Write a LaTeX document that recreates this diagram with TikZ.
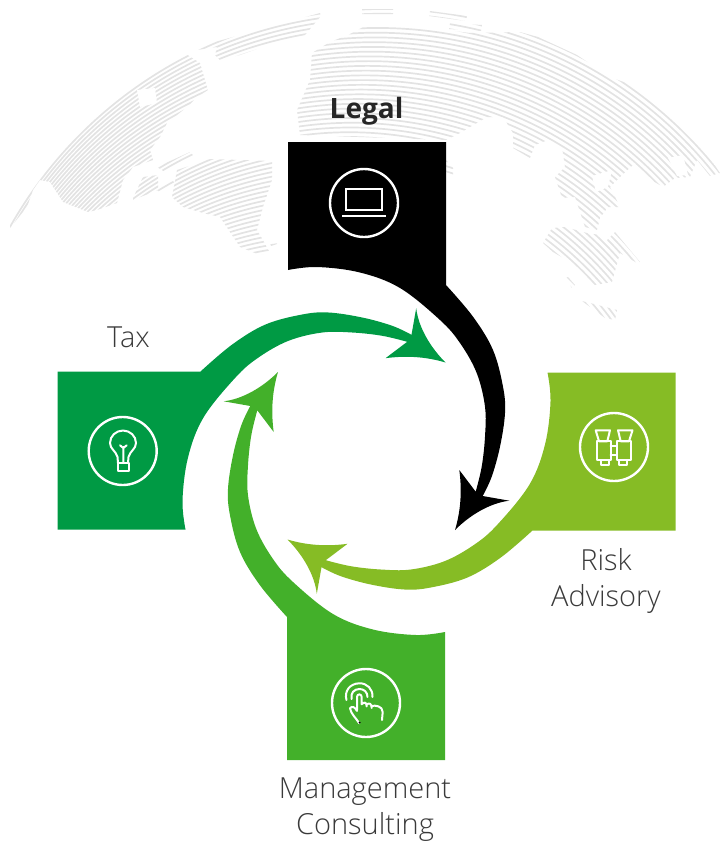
\documentclass[tikz,border=0pt]{standalone}
\usepackage{fontspec}
\setmainfont{Open Sans Light}
\newfontfamily\boldlab{Open Sans}[BoldFont={Open Sans Bold}]
\definecolor{taxgreen}{HTML}{009A44}
\definecolor{mgmtgreen}{HTML}{43B02A}
\definecolor{riskgreen}{HTML}{86BC25}
\definecolor{globegray}{HTML}{E3E3E3}
\definecolor{labelgray}{HTML}{3A3A3A}
\tikzset{
  globeline/.style={draw=globegray,line width=1.7pt},
  gapfill/.style={fill=white,draw=none},
  iconring/.style={draw=white,line width=2.4pt},
  iconline/.style={draw=white,line width=2pt,line cap=round,line join=round},
  lab/.style={text=labelgray,font=\fontsize{29}{36}\selectfont,align=center,inner sep=0pt},
}
\newcommand{\armshape}[1]{%
  \fill[#1] (288,142) -- (446,142) -- (446,285)
    -- plot[smooth,tension=0.6] coordinates {(446,285)(473,316.7)(493,350)(503,386.7)(505,413)(500,446.7)(491.7,476.7)(482.7,496)}
    -- (509.3,500.7) .. controls (490,503) and (470,515) .. (455,530)
    .. controls (461,510) and (462,490) .. (459.3,470)
    -- (475.7,491.7)
    -- plot[smooth,tension=0.6] coordinates {(475.7,491.7)(481.7,466.7)(485,436.7)(485,406.7)(476.7,373)(460,343)(440,320)(400,288)(360,272.5)(317,267)(288,270)}
    -- cycle;}
\begin{document}
\begin{tikzpicture}[x=1pt,y=-1pt]
\useasboundingbox (0,0) rectangle (721,844);
\coordinate (hub) at (366.5,451);
% globe
\begin{scope}
\clip
 (10,228)--(10,200)--(17,187)--(100,97)--(153,60)--(183,52)--(200,63)--(208,90)--(197,97)--(187,107)--(167,123)--(160,137)--(150,150)--(153,160)--(133,167)--(123,180)--(117,203)--(97,210)--(88,212)--(63,202)--(50,182)--(40,180)--(33,190)--(27,207)--cycle
 (133,198)--(143,177)--(158,175)--(158,190)--(133,200)--cycle
 (157,167)--(190,152)--(193,155)--(165,172)--cycle
 (157,190)--(172,180)--(175,183)--(160,192)--cycle
 (172,197)--(177,170)--(210,159)--(272,161)--(272,180)--(263,207)--(257,230)--(263,240)--(270,253)--(260,255)--(240,247)--(220,217)--(203,213)--(183,207)--cycle
 (270,243)--(277,241)--(277,244)--(271,246)--cycle
 (193,48)--(320,13)--(321,16)--(305,35)--(283,40)--(240,55)--(220,60)--(215,55)--(217,47)--(197,50)--cycle
 (297,110)--(310,80)--(312,53)--(330,42)--(348,35)--(367,25)--(423,27)--(470,33)--(520,32)--(538,37)--(577,55)--(610,77)--(640,88)--(650,100)--(693,133)--(720,173)--(710,176)--(697,160)--(690,177)--(675,178)--(663,187)--(643,175)--(635,163)--(620,177)--(610,187)--(620,207)--(608,207)--(600,218)--(597,230)--(585,227)--(575,197)--(562,198)--(555,177)--(565,167)--(562,147)--(548,140)--(535,145)--(530,158)--(513,148)--(513,133)--(503,117)--(487,117)--(460,133)--(446,140)--(300,135)--cycle
 (362,9)--(393,9)--(393,14)--(362,14)--cycle
 (430,11)--(467,16)--(466,21)--(429,16)--cycle
 (450,23)--(482,25)--(481,31)--(449,29)--cycle
 (446,160)--(453,168)--(453,175)--(446,172)--cycle
 (543,243)--(552,228)--(565,227)--(587,233)--(600,235)--(605,242)--(615,232)--(640,262)--(637,263)--(620,253)--(612,282)--(595,285)--(570,262)--(553,252)--cycle
 (565,278)--(568,277)--(575,285)--(572,288)--cycle
 (582,301)--(590,303)--(617,310)--(615,320)--(605,318)--cycle;
\foreach \k in {0,...,62}{
  \pgfmathsetmacro{\cx}{383-1.3*\k}
  \pgfmathsetmacro{\cy}{437+2.3*\k}
  \pgfmathsetmacro{\rr}{428-2.44*\k}
  \draw[globeline] (\cx,\cy) circle[radius=\rr];
}
\end{scope}
% water gaps in the land
\fill[gapfill] (137,90)--(155,88)--(157,103)--(140,107)--cycle;
\fill[gapfill] (668,158)--(683,155)--(688,175)--(677,176)--cycle;
\fill[gapfill] (592,176)--(612,170)--(608,187)--(596,192)--cycle;
% arms
\armshape{black}
\begin{scope}[rotate around={-90:(hub)}]\armshape{riskgreen}\end{scope}
\begin{scope}[rotate around={-180:(hub)}]\armshape{mgmtgreen}\end{scope}
\begin{scope}[rotate around={-270:(hub)}]\armshape{taxgreen}\end{scope}
% laptop
\draw[iconring] (364,203) circle[radius=34];
\draw[iconline,line join=miter] (345.7,189.3) rectangle (381.7,210);
\draw[iconline,line cap=butt] (342.3,215.7) -- (385.7,215.7);
% bulb
\draw[iconring] (122.7,451) circle[radius=34];
\draw[iconline] (118,463) -- (117.5,457) .. controls (116,451) and (110,449) .. (110,443)
  .. controls (110,436) and (116,430.5) .. (123,430.5)
  .. controls (130,430.5) and (136,436) .. (136,443)
  .. controls (136,449) and (130,451) .. (128.5,457) -- (128,463);
\draw[iconline] (117.5,463) rectangle (129,471);
\draw[iconline] (123.3,463) -- (123.3,447) (120,445.3) -- (123.3,448) -- (126.7,445.3);
% binoculars
\draw[iconring] (614,447) circle[radius=34];
\draw[iconline] (595.7,430.3) -- (610,430.3) -- (607.3,441.3) -- (599,441.3) -- cycle;
\draw[iconline] (596.7,441.3) rectangle (610.7,459.7);
\draw[iconline] (601.3,459.7) rectangle (609,464.7);
\draw[iconline] (618,430.3) -- (632.5,430.3) -- (629,441.3) -- (620.7,441.3) -- cycle;
\draw[iconline] (616.7,441.3) rectangle (630.7,459.7);
\draw[iconline] (619,459.7) rectangle (627.3,464.7);
\draw[iconline] (610.7,446.3) -- (616.7,446.3) (610.7,454.7) -- (616.7,454.7);
% hand
\draw[iconring] (366,703) circle[radius=34];
\draw[iconline] (346.5,700) .. controls (344,691) and (350,683.5) .. (359.3,683.3) .. controls (367,683) and (373,689) .. (372.5,697);
\draw[iconline] (351.5,699) .. controls (350.5,693) and (354,689) .. (359.5,689) .. controls (364,689) and (367.5,692) .. (367.5,697);
\draw[iconline] (357,710) -- (357,697) .. controls (357,693.5) and (361.7,693.5) .. (361.7,697) -- (361.7,704.3)
  .. controls (364,701.5) and (366.7,702) .. (366.7,706.5)
  (366.7,704.5) .. controls (369,702.5) and (371.7,703.5) .. (371.7,708)
  (371.7,706) .. controls (375,705) and (382.7,706) .. (382.7,712) -- (382,720);
\draw[iconline] (357,711) .. controls (355,707) and (352,705.5) .. (350,708.3) .. controls (351,714) and (356,718) .. (359.3,723.3);
\fill[black] (359.6,722.6) circle[radius=1.1];
% labels
\node[lab,anchor=base,text=black!85,font=\boldlab\bfseries\fontsize{28}{36}\selectfont] (legal) at (366.5,118) {Legal};
\node[lab,anchor=base] (tax) at (128.5,347) {Tax};
\node[lab] (risk) at (606,581) {Risk\\Advisory};
\node[lab] (mgmt) at (365,810) {Management\\Consulting};
\end{tikzpicture}
\end{document}
